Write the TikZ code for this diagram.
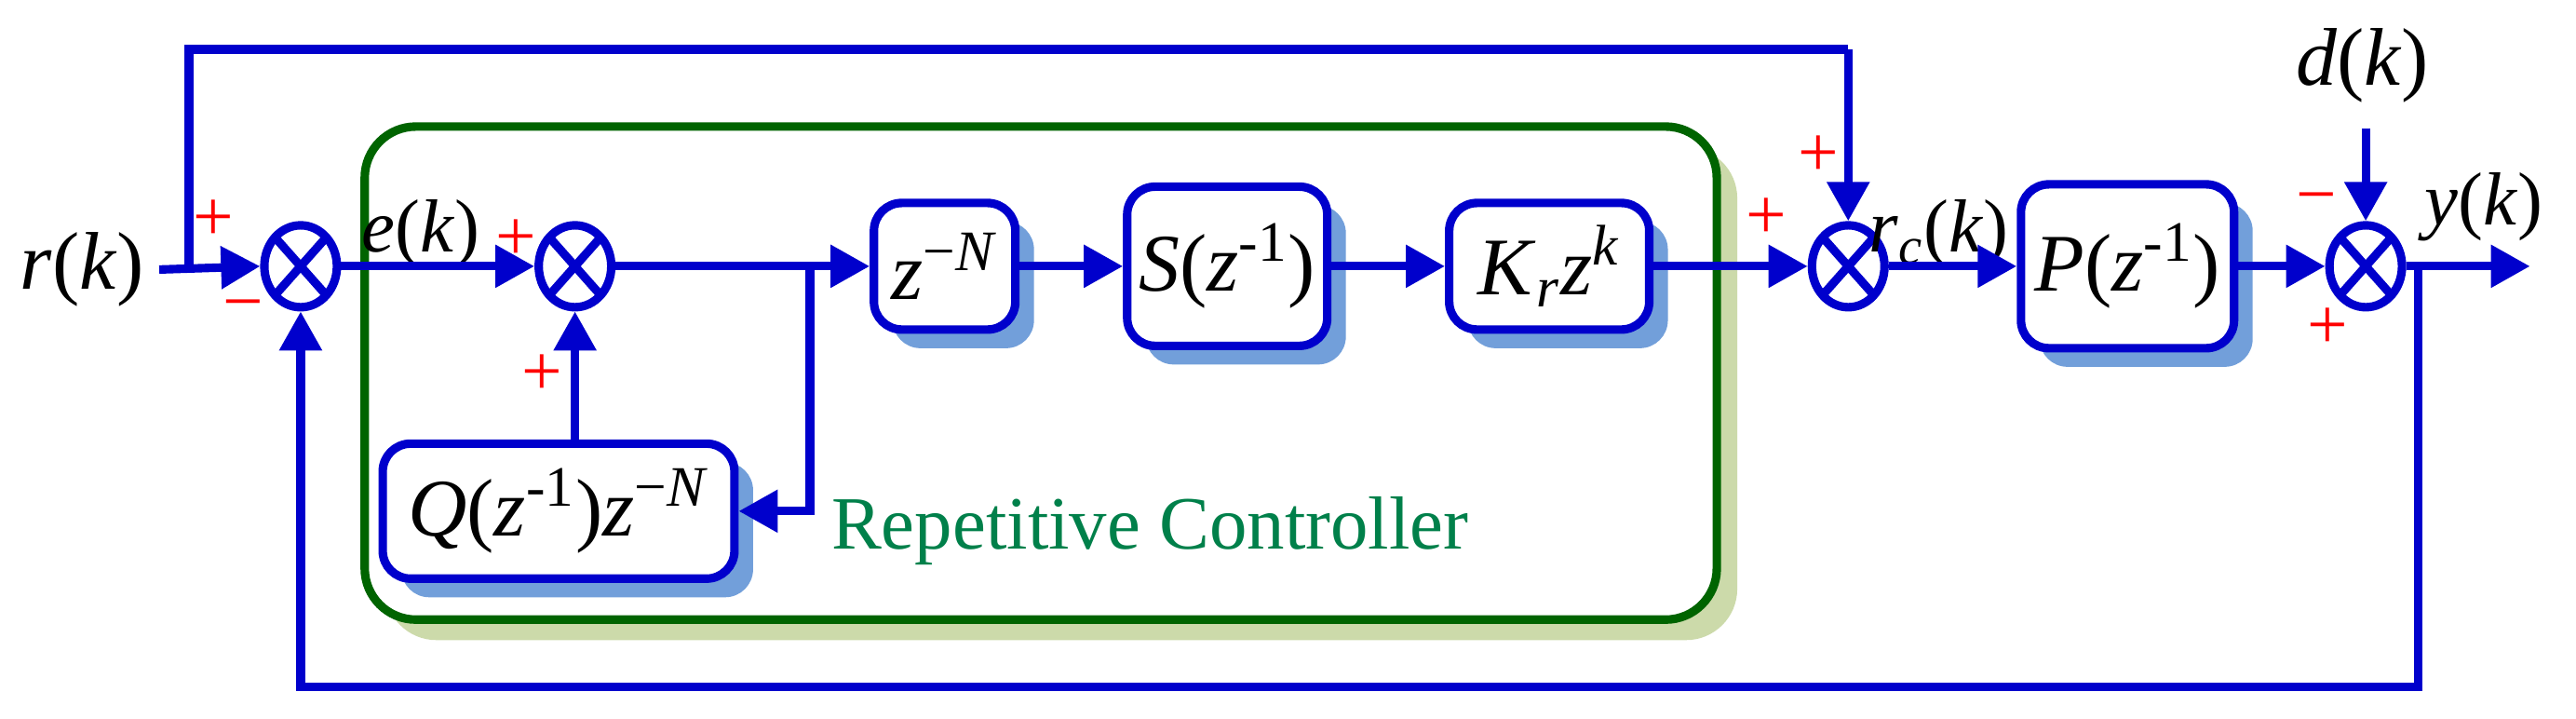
\documentclass[tikz,border=0pt]{standalone}
\usepackage{fontspec}
\setmainfont{Liberation Serif}
\usetikzlibrary{arrows.meta,shapes.geometric,shadows}
\definecolor{lb}{HTML}{0000CC}
\definecolor{sb}{HTML}{729FDA}
\definecolor{gf}{HTML}{006400}
\definecolor{gs}{HTML}{CCDAAA}
\definecolor{gt}{HTML}{00804A}
\begin{document}
\begin{tikzpicture}[x=0.01765cm,y=-0.01765cm,
  line width=2.6pt,
  every node/.style={font=\fontsize{25}{30}\selectfont},
  lab/.style={font=\fontsize{23}{27}\selectfont,inner sep=1pt},
  arr/.style={draw=lb,-{Triangle[length=0.42cm,width=0.44cm]}},
  ln/.style={draw=lb},
  blk/.style={draw=lb,fill=white,rounded corners=0.3cm,line width=2.6pt,inner sep=0pt,
    drop shadow={shadow xshift=0.2cm,shadow yshift=-0.2cm,fill=sb,opacity=1}},
  sum/.style={ellipse,draw=lb,fill=white,minimum width=0.78cm,minimum height=0.88cm,inner sep=0pt,
    path picture={\draw[lb,line width=2.6pt] (path picture bounding box.north west)--(path picture bounding box.south east)
      (path picture bounding box.north east)--(path picture bounding box.south west);}},
  sg/.style={text=red,font=\fontsize{22}{26}\selectfont,inner sep=0pt}]
\useasboundingbox (0,0) rectangle (1568,437);
% frame
\draw[gf,fill=white,line width=2.6pt,rounded corners=0.55cm,drop shadow={shadow xshift=0.22cm,shadow yshift=-0.22cm,fill=gs,opacity=1}]
  (222,77) rectangle (1045,377);
\node[text=gt,font=\fontsize{23}{26}\selectfont] (rc) at (700,323) {Repetitive Controller};
% nodes
\node (r) at (50,164) {\textit{r}(\textit{k})};
\coordinate (j) at (115,162);
\node[sum] (s1) at (183,162) {};
\node[sum] (s2) at (350,162) {};
\node[blk,minimum width=1.52cm,minimum height=1.36cm] (zn) at (575,162) {\textit{z}\textsuperscript{−\textit{N}}};
\node[blk,minimum width=2.15cm,minimum height=1.71cm] (S) at (747,162) {\textit{S}(\textit{z}\textsuperscript{-1})};
\node[blk,minimum width=2.15cm,minimum height=1.36cm] (K) at (943,162) {\textit{K}\textsubscript{\textit{r}}\textit{z}\textsuperscript{\textit{k}}};
\node[blk,minimum width=3.78cm,minimum height=1.45cm] (Q) at (340,311) {\textit{Q}(\textit{z}\textsuperscript{-1})\textit{z}\textsuperscript{−\textit{N}}};
\node[sum] (s3) at (1125,162) {};
\node[blk,minimum width=2.29cm,minimum height=1.76cm] (P) at (1295,162) {\textit{P}(\textit{z}\textsuperscript{-1})};
\node[sum] (s4) at (1440,162) {};
\node (d) at (1438,40) {\textit{d}(\textit{k})};
\coordinate (dt) at (1440,78);
\coordinate (out) at (1540,162);
\coordinate (sp) at (493,162);
\coordinate (fb) at (1472,162);
% labels
\node[lab] at (256,142) {\textit{e}(\textit{k})};
\node[lab] at (1180,142) {\textit{r}\textsubscript{\textit{c}}(\textit{k})};
\node[lab] at (1512,126) {\textit{y}(\textit{k})};
\node[sg] at (130,134) {+};
\node[sg] at (148,190) {−};
\node[sg] at (314,146) {+};
\node[sg] at (330,228) {+};
\node[sg] at (1075,133) {+};
\node[sg] at (1107,95) {+};
\node[sg] at (1410,125) {−};
\node[sg] at (1417,200) {+};
% connectors
\draw[arr] (r.east) -- (s1.west);
\draw[ln] (j) |- (1125,30) coordinate (tc);
\draw[arr] (tc) -- (s3.north);
\draw[arr] (s1.east) -- (s2.west);
\draw[arr] (s2.east) -- (zn.west);
\draw[arr] (zn.east) -- (S.west);
\draw[arr] (S.east) -- (K.west);
\draw[arr] (K.east) -- (s3.west);
\draw[arr] (s3.east) -- (P.west);
\draw[arr] (P.east) -- (s4.west);
\draw[arr] (s4.east) -- (out);
\draw[arr] (sp) |- (Q.east);
\draw[arr] (s2.south |- Q.north) -- (s2.south);
\draw[arr] (dt) -- (s4.north);
\draw[arr] (fb) |- (183,418) -- (s1.south);
\end{tikzpicture}
\end{document}
